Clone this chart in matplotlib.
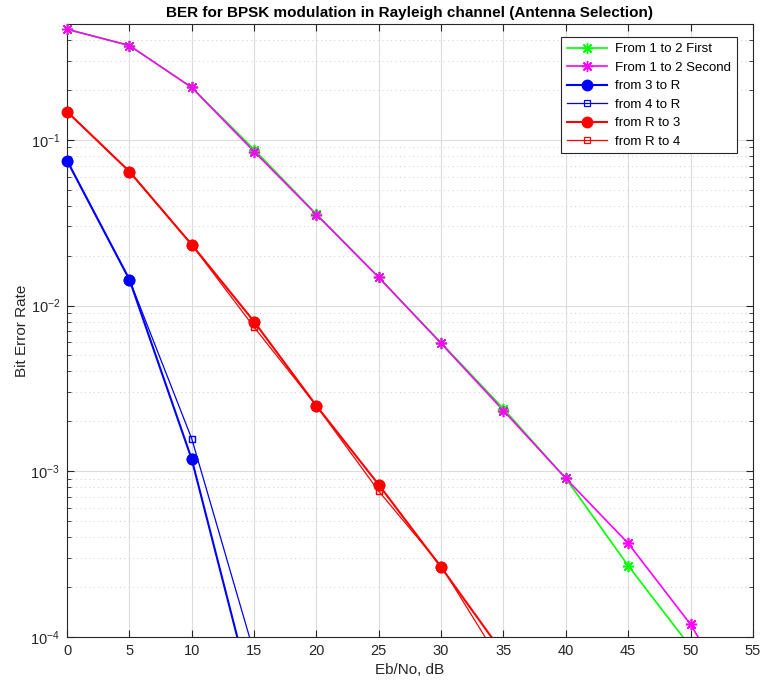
import numpy as np
import matplotlib.pyplot as plt

plt.rcParams['font.family'] = ['Liberation Sans', 'DejaVu Sans']
plt.rcParams['mathtext.fontset'] = 'custom'
plt.rcParams['mathtext.rm'] = 'Liberation Sans'
plt.rcParams['axes.unicode_minus'] = False

# Eb/No grid (dB)
ebno = np.arange(0, 60, 5)

# simulated BER curves
ber_12_first = [0.465, 0.371, 0.207, 0.0874, 0.0356, 0.0148, 0.00595, 0.00238,
                9.04e-4, 2.69e-4, 8.7e-5]
ber_12_second = [0.465, 0.371, 0.207, 0.085, 0.0354, 0.01476, 0.0059, 0.00232,
                 9.04e-4, 3.67e-4, 1.19e-4, 2.8e-5]
ber_3_r = [0.0749, 0.01435, 0.00118, 4.0e-5]
ber_4_r = [0.0749, 0.01435, 0.00157, 8.0e-5]
ber_r_3 = [0.148, 0.0644, 0.0233, 0.0080, 0.00248, 8.28e-4, 2.63e-4, 7.9e-5]
ber_r_4 = [0.148, 0.0644, 0.0233, 0.0074, 0.00248, 7.57e-4, 2.68e-4, 6.6e-5]

YLIM = (1e-4, 0.5)
ASTERISK = (8, 2, 0)

fig = plt.figure(figsize=(7.62, 6.87), dpi=100)
ax = fig.add_axes([0.088, 0.073, 0.900, 0.892])


def curva(ber, marker, color, lw, ms, label, hueco=False):
    x = ebno[:len(ber)]
    y = np.asarray(ber)
    kw = dict(color=color, ms=ms, mew=lw if hueco else 1.0)
    if hueco:
        kw['mfc'] = 'none'
    ax.semilogy(x, y, '-', marker=marker, lw=lw, label=label, **kw)
    # markers inside the y range are drawn unclipped, like MATLAB does
    dentro = (y >= YLIM[0]) & (y <= YLIM[1])
    ax.plot(x[dentro], y[dentro], ls='none', marker=marker, clip_on=False,
            zorder=3, **kw)


curva(ber_12_first, ASTERISK, '#00ff00', 1.2, 8, 'From 1 to 2 First')
curva(ber_12_second, ASTERISK, '#ff00ff', 1.2, 8, 'From 1 to 2 Second')
curva(ber_3_r, 'o', '#0000ff', 1.5, 7.5, 'from 3 to R')
curva(ber_4_r, 's', '#0000ff', 0.9, 5, 'from 4 to R', hueco=True)
curva(ber_r_3, 'o', '#ff0000', 1.5, 7.5, 'from R to 3')
curva(ber_r_4, 's', '#ff0000', 0.9, 5, 'from R to 4', hueco=True)

ax.set_xlim(0, 55)
ax.set_ylim(*YLIM)
ax.set_xticks(np.arange(0, 60, 5))

ax.grid(True, which='major', color='#dcdcdc', lw=0.8, ls='-')
ax.grid(True, which='minor', axis='y', color='#cccccc', lw=0.7, ls=(0, (1, 3.5)))
ax.set_axisbelow(True)

ax.tick_params(which='both', direction='in', top=True, right=True,
               colors='#262626', labelsize=10.5, pad=5)
ax.tick_params(which='major', length=5)
ax.tick_params(which='minor', length=3)
for sp in ax.spines.values():
    sp.set_color('#262626')
    sp.set_linewidth(0.8)

ax.set_title('BER for BPSK modulation in Rayleigh channel (Antenna Selection)',
             fontsize=11, fontweight='bold', pad=5)
ax.set_xlabel('Eb/No, dB', fontsize=11, color='#262626', labelpad=4)
ax.set_ylabel('Bit Error Rate', fontsize=11, color='#262626', labelpad=1)

leg = ax.legend(loc='upper right', bbox_to_anchor=(0.982, 0.985), fontsize=9.5,
                fancybox=False, framealpha=1, edgecolor='#262626',
                handlelength=3.0, handletextpad=0.6, borderpad=0.45,
                labelspacing=0.47, borderaxespad=0.3)
leg.get_frame().set_linewidth(0.8)

fig.savefig('out.png', dpi=100)
